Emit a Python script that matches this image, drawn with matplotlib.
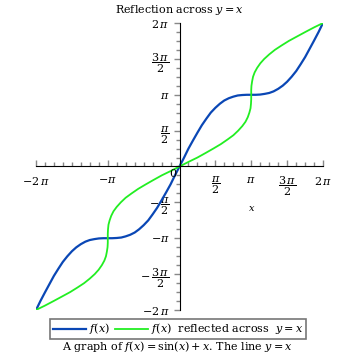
import matplotlib
matplotlib.use("Agg")
import matplotlib.pyplot as plt
import numpy as np

plt.rcParams['font.family'] = ['DejaVu Serif']
plt.rcParams['mathtext.fontset'] = 'dejavuserif'

x_vals = [-6.28, -6.09, -5.89, -5.69, -5.50, -5.30, -5.11, -4.91, -4.71, -4.52, -4.32,
          -4.12, -3.93, -3.73, -3.53, -3.34, -3.14, -2.95, -2.75, -2.55, -2.36, -2.16,
          -1.96, -1.77, -1.57, -1.37, -1.18, -0.98, -0.79, -0.59, -0.39, -0.20,
          0.0,
          0.20, 0.39, 0.59, 0.79, 0.98, 1.18, 1.37, 1.57, 1.77, 1.96, 2.16, 2.36, 2.55,
          2.75, 2.95, 3.14, 3.34, 3.53, 3.73, 3.93, 4.12, 4.32, 4.52, 4.71, 4.91, 5.11,
          5.30, 5.50, 5.69, 5.89, 6.09, 6.28]
y_vals = [-6.28, -5.89, -5.51, -5.14, -4.79, -4.47, -4.18, -3.93, -3.71, -3.54, -3.40,
          -3.29, -3.22, -3.18, -3.15, -3.14, -3.14, -3.14, -3.13, -3.11, -3.06, -2.99,
          -2.89, -2.75, -2.57, -2.36, -2.10, -1.81, -1.49, -1.14, -0.78, -0.39,
          0.0,
          0.39, 0.78, 1.14, 1.49, 1.81, 2.10, 2.36, 2.57, 2.75, 2.89, 2.99, 3.06, 3.11,
          3.13, 3.14, 3.14, 3.14, 3.15, 3.18, 3.22, 3.29, 3.40, 3.54, 3.71, 3.93, 4.18,
          4.47, 4.79, 5.14, 5.51, 5.89, 6.28]

# tick positions in units of pi, and their labels
xtick_pos = [-2, -1, 0.5, 1, 1.5, 2]
xtick_lab = [r'$-2\,\pi$', r'$-\pi$', r'$\dfrac{\pi}{2}$', r'$\pi$', r'$\dfrac{3\,\pi}{2}$', r'$2\,\pi$']
ytick_pos = [-2, -1.5, -1, -0.5, 0.5, 1, 1.5, 2]
ytick_lab = [r'$-2\,\pi$', r'$-\,\dfrac{3\,\pi}{2}$', r'$-\pi$', r'$-\,\dfrac{\pi}{2}$',
             r'$\dfrac{\pi}{2}$', r'$\pi$', r'$\dfrac{3\,\pi}{2}$', r'$2\,\pi$']

blue = '#0a47b5'
green = '#22ee22'

fig = plt.figure(figsize=(3.55, 3.55), dpi=100)
ax = fig.add_axes([36/355, 1-310/355, 287/355, 287/355])

ax.plot(x_vals, y_vals, color=blue, lw=1.6, label=r'$f(x)$')
ax.plot(y_vals, x_vals, color=green, lw=1.3, label=r'$f(x)$  reflected across  $y = x$')

ax.set_xlim(-2*np.pi, 2*np.pi)
ax.set_ylim(-2*np.pi, 2*np.pi)

ax.spines['left'].set_position(('data', 0))
ax.spines['bottom'].set_position(('data', 0))
ax.spines['top'].set_visible(False)
ax.spines['right'].set_visible(False)

ax.set_xticks([p*np.pi for p in xtick_pos])
ax.set_xticklabels(xtick_lab, fontsize=8)
ax.set_yticks([p*np.pi for p in ytick_pos])
ax.set_yticklabels(ytick_lab, fontsize=8)
ax.set_xticks(np.arange(-16, 17)*np.pi/8, minor=True)
ax.set_yticks(np.arange(-16, 17)*np.pi/8, minor=True)
ax.tick_params(axis='x', which='both', direction='in', color='#888888', pad=6)
ax.tick_params(axis='y', which='both', direction='out', color='#888888', pad=3)
ax.tick_params(which='major', length=4, width=1)
ax.tick_params(which='minor', length=3, width=1)

ax.text(-0.15, -0.1, '0', fontsize=8, ha='right', va='top')

ax.set_xlabel(r'$x$', fontsize=7)
ax.xaxis.set_label_coords(0.753, 0.37)

ax.set_title(r'Reflection across $y = x$', fontsize=8, pad=7)

leg = fig.legend(loc='center', bbox_to_anchor=(178/355, 1-329/355), ncol=2,
                 fontsize=8, frameon=True, fancybox=False, handlelength=3,
                 columnspacing=0.4, handletextpad=0.3, borderpad=0.2, borderaxespad=0)
leg.get_frame().set_edgecolor('#555555')
leg.get_frame().set_linewidth(1.2)

fig.text(0.5, 1/355, r'A graph of $f(x) = \sin(x) + x$. The line $y = x$', fontsize=8,
         ha='center', va='bottom')

fig.savefig('out.png', dpi=100)
